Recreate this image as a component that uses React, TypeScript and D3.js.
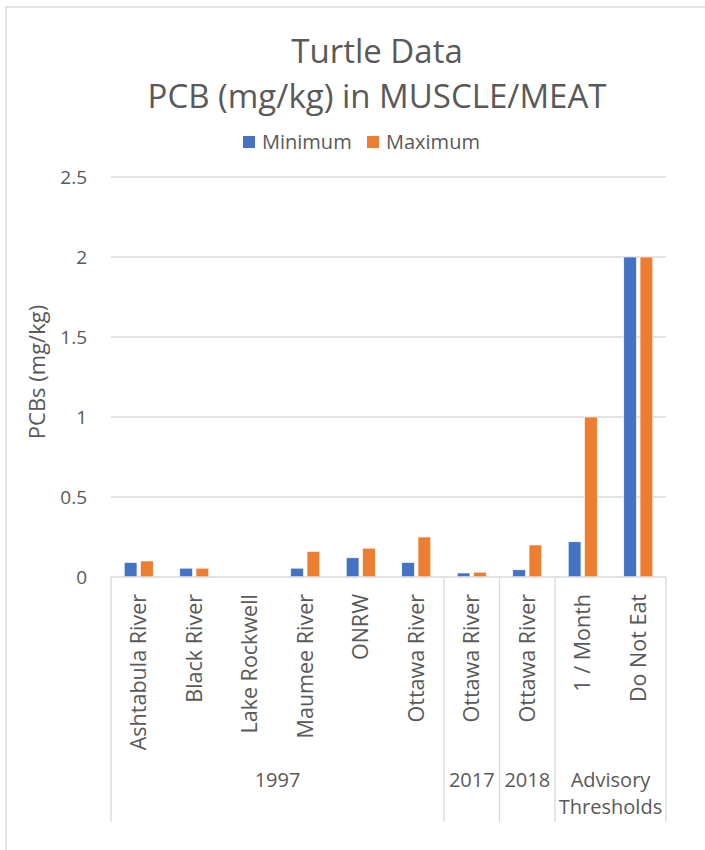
import * as d3 from "d3";

const categories = [
  "Ashtabula River",
  "Black River",
  "Lake Rockwell",
  "Maumee River",
  "ONRW",
  "Ottawa River",
  "Ottawa River",
  "Ottawa River",
  "1 / Month",
  "Do Not Eat",
];
const groups = [
  { label: ["1997"], count: 6 },
  { label: ["2017"], count: 1 },
  { label: ["2018"], count: 1 },
  { label: ["Advisory", "Thresholds"], count: 2 },
];
const minimum = [0.09, 0.055, 0, 0.055, 0.12, 0.09, 0.025, 0.045, 0.22, 2];
const maximum = [0.1, 0.055, 0, 0.16, 0.18, 0.25, 0.03, 0.2, 1, 2];
const yTicks = [0, 0.5, 1, 1.5, 2, 2.5];
const seriesNames = ["Minimum", "Maximum"];
const colors = ["#4472C4", "#ED7D31"];

const W = 705;
const H = 850;
const left = 111;
const right = 666;
const top = 177;
const bottom = 577;
const font = "'Open Sans', sans-serif";
const textColor = "#595959";
const gridColor = "#D9D9D9";

export default function App() {
  const x = d3
    .scaleBand<number>()
    .domain(categories.map((_, i) => i))
    .range([left, right])
    .padding(0);
  const y = d3.scaleLinear().domain([0, 2.5]).range([bottom, top]);
  const inner = d3
    .scaleBand<number>()
    .domain([0, 1])
    .range([-14.5, 14.5])
    .paddingInner(0.22);

  const series = [minimum, maximum];

  // group boundaries for the multi-level axis
  let acc = 0;
  const groupPos = groups.map((g) => {
    const x0 = x(acc)!;
    acc += g.count;
    const x1 = acc < categories.length ? x(acc)! : right;
    return { ...g, x0, x1 };
  });

  return (
    <svg
      width={W}
      height={H}
      style={{ position: "absolute", left: 0, top: 0, background: "#fff" }}
    >
      {/* chart area border */}
      <rect x={6} y={7} width={W + 10} height={H + 10} fill="#fff" stroke={gridColor} strokeWidth={1.5} />

      {/* title */}
      <text x={377} y={63} textAnchor="middle" fontFamily={font} fontSize={33} fill={textColor}>
        Turtle Data
      </text>
      <text x={377} y={108} textAnchor="middle" fontFamily={font} fontSize={33} fill={textColor}>
        PCB (mg/kg) in MUSCLE/MEAT
      </text>

      {/* legend */}
      {seriesNames.map((name, i) => (
        <g key={name} transform={`translate(${243 + i * 124},0)`}>
          <rect x={0} y={136} width={12} height={12} fill={colors[i]} />
          <text x={19} y={149} fontFamily={font} fontSize={20} fill={textColor}>
            {name}
          </text>
        </g>
      ))}

      {/* gridlines + y ticks */}
      {yTicks.map((t) => (
        <g key={t}>
          {t > 0 && (
            <line x1={left} x2={right} y1={y(t)} y2={y(t)} stroke={gridColor} strokeWidth={1.3} />
          )}
          <text
            x={87}
            y={y(t)}
            dy="0.35em"
            textAnchor="end"
            fontFamily={font}
            fontSize={19}
            fill={textColor}
          >
            {t}
          </text>
        </g>
      ))}

      {/* y axis title */}
      <text
        transform={`translate(45,${372}) rotate(-90)`}
        textAnchor="middle"
        fontFamily={font}
        fontSize={22}
        fill={textColor}
      >
        PCBs (mg/kg)
      </text>

      {/* bars */}
      {series.map((vals, s) =>
        vals.map((v, i) =>
          v > 0 ? (
            <rect
              key={`${s}-${i}`}
              x={x(i)! + x.bandwidth() / 2 + inner(s)!}
              y={y(v)}
              width={inner.bandwidth()}
              height={y(0) - y(v)}
              fill={colors[s]}
              stroke="#fff"
              strokeWidth={0.6}
            />
          ) : null
        )
      )}

      {/* x axis */}
      <line x1={left} x2={right} y1={bottom} y2={bottom} stroke={gridColor} strokeWidth={1.3} />
      {[left, ...groupPos.map((g) => g.x1)].map((gx, i) => (
        <line key={i} x1={gx} x2={gx} y1={bottom} y2={822} stroke={gridColor} strokeWidth={1.3} />
      ))}

      {/* category labels */}
      {categories.map((c, i) => (
        <text
          key={i}
          transform={`translate(${x(i)! + x.bandwidth() / 2},594) rotate(-90)`}
          dy="0.35em"
          textAnchor="end"
          fontFamily={font}
          fontSize={21.5}
          fill={textColor}
        >
          {c}
        </text>
      ))}

      {/* group labels */}
      {groupPos.map((g, gi) =>
        g.label.map((l, li) => (
          <text
            key={`${gi}-${li}`}
            x={(g.x0 + g.x1) / 2}
            y={787 + li * 27}
            textAnchor="middle"
            fontFamily={font}
            fontSize={20}
            fill={textColor}
          >
            {l}
          </text>
        ))
      )}
    </svg>
  );
}
